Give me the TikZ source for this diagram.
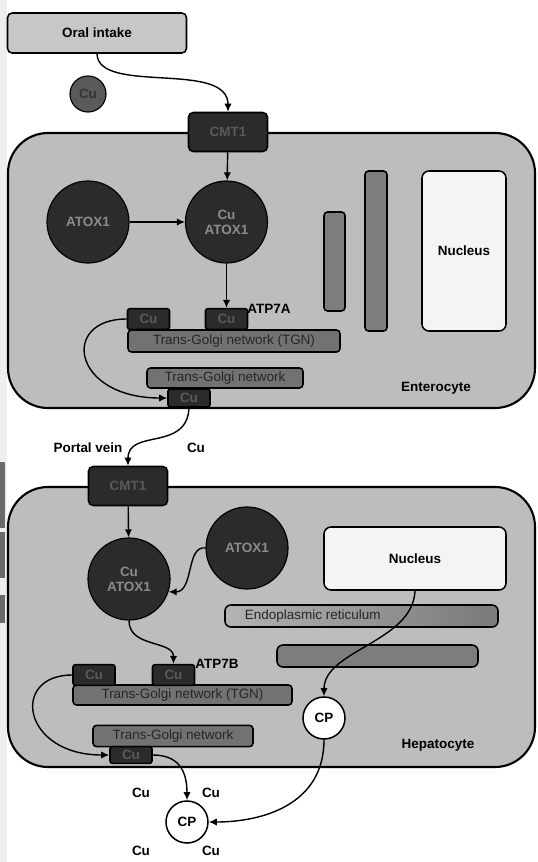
\documentclass[tikz,border=0pt]{standalone}
\usepackage{fontspec}
\setmainfont{Liberation Sans}
\usepackage{tikz}
\usetikzlibrary{calc,arrows.meta}

\definecolor{cellgray}{HTML}{BDBDBD}
\definecolor{oralgray}{HTML}{C7C7C7}
\definecolor{darkfill}{HTML}{2B2B2B}
\definecolor{protext}{HTML}{8C8C8C}
\definecolor{iongray}{HTML}{5A5A5A}
\definecolor{bargray}{HTML}{7D7D7D}
\definecolor{tgngray}{HTML}{727272}
\definecolor{nucfill}{HTML}{F4F4F4}
\definecolor{stripgray}{HTML}{EEEEEE}
\definecolor{edgegray}{HTML}{6A6A6A}

\begin{document}
\begin{tikzpicture}[
        x=0.03cm, y=-0.03cm,
        every node/.style={font=\bfseries\fontsize{11.5}{13}\selectfont},
        cell/.style={
            draw,
            line width=1.8pt,
            rounded corners=1.2cm,
            fill=cellgray
        },
        box/.style={
            draw,
            rounded corners=4pt,
            line width=1.3pt,
            inner sep=0pt
        },
        cmt/.style={
            box,
            fill=darkfill,
            text=iongray,
            minimum width=2.37cm,
            minimum height=1.17cm
        },
        prot/.style={
            circle,
            draw,
            line width=1pt,
            fill=darkfill,
            text=protext,
            minimum size=2.46cm,
            inner sep=0pt,
            align=center
        },
        cubox/.style={
            box,
            rounded corners=2pt,
            fill=darkfill,
            text=iongray,
            minimum width=1.26cm,
            minimum height=0.62cm
        },
        tgn/.style={
            box,
            rounded corners=3pt,
            fill=tgngray,
            text=black!85,
            font=\fontsize{11.5}{13}\selectfont
        },
        organelle/.style={
            box,
            rounded corners=6pt,
            fill=nucfill
        },
        vbar/.style={
            box,
            rounded corners=3pt,
            fill=bargray
        },
        cp/.style={
            circle,
            draw,
            line width=1.3pt,
            fill=white,
            minimum size=1.26cm,
            inner sep=0pt
        },
        lab/.style={inner sep=1pt},
        arrow/.style={-{Latex[length=2.4mm,width=2.2mm]}, line width=1.2pt}
    ]

    % Canvas and scan edge
    \useasboundingbox (0,0) rectangle (538,862);
    \fill[white] (0,0) rectangle (538,862);
    \fill[stripgray] (0,0) rectangle (7,862);
    \fill[edgegray] (0,462) rectangle (5,528);
    \fill[edgegray] (0,532) rectangle (5,578);
    \fill[edgegray] (0,595) rectangle (5,623);

    % Cells
    \draw[cell] (8,133) rectangle (535,408);
    \draw[cell] (8,487) rectangle (535,767);

    % Intake
    \node[box, fill=oralgray, minimum width=5.37cm, minimum height=1.2cm] (oral) at (97,33) {Oral intake};
    \node[circle, draw, line width=1pt, fill=iongray, text=black!80, minimum size=1.08cm, inner sep=0pt] (ion) at (88,94) {Cu};

    % Enterocyte
    \node[cmt] (cmtA) at (228,132) {CMT1};
    \node[prot] (atoxA) at (88,222) {ATOX1};
    \node[prot] (cuatoxA) at (226.5,222) {Cu\\ATOX1};
    \node[vbar, minimum width=0.63cm, minimum height=2.97cm] (barA1) at (334.5,261.5) {};
    \node[vbar, minimum width=0.66cm, minimum height=4.8cm] (barA2) at (376,251) {};
    \node[organelle, minimum width=2.52cm, minimum height=4.8cm] (nucA) at (464,251) {Nucleus};
    \node[tgn, minimum width=6.36cm, minimum height=0.66cm] (tgnA1) at (234,341) {Trans-Golgi network (TGN)};
    \node[cubox] (cuA1) at (148.5,319) {Cu};
    \node[cubox] (cuA2) at (226.5,319) {Cu};
    \node[lab, anchor=west] (atp7a) at (246,309) {ATP7A};
    \node[tgn, minimum width=4.68cm, minimum height=0.6cm] (tgnA2) at (225,378) {Trans-Golgi network};
    \node[cubox, minimum height=0.54cm] (cuA3) at (189,398) {Cu};
    \node[lab] (entero) at (436,388) {Enterocyte};

    % Portal vein
    \node[lab] (portal) at (88,448) {Portal vein};
    \node[lab] (cuPortal) at (196,448) {Cu};

    % Hepatocyte
    \node[cmt] (cmtB) at (128,486) {CMT1};
    \node[prot] (cuatoxB) at (129,579) {Cu\\ATOX1};
    \node[prot] (atoxB) at (247,548) {ATOX1};
    \node[organelle, minimum width=5.46cm, minimum height=1.89cm] (nucB) at (415,558.5) {Nucleus};
    \node[box, rounded corners=5pt, left color=gray!60, right color=gray!105, shading angle=90,
          minimum width=8.19cm, minimum height=0.66cm,
          label={[tgn, draw=none, fill=none, anchor=west, xshift=0.6cm]west:Endoplasmic reticulum}] (erB) at (361.5,616) {};
    \node[vbar, rounded corners=5pt, minimum width=6.03cm, minimum height=0.66cm] (barB) at (377.5,656) {};
    \node[tgn, minimum width=6.57cm, minimum height=0.6cm] (tgnB1) at (182.5,695) {Trans-Golgi network (TGN)};
    \node[cubox] (cuB1) at (94,675) {Cu};
    \node[cubox] (cuB2) at (173.5,675) {Cu};
    \node[lab, anchor=west] (atp7b) at (194,664) {ATP7B};
    \node[tgn, minimum width=4.8cm, minimum height=0.64cm] (tgnB2) at (173,736) {Trans-Golgi network};
    \node[cubox, minimum height=0.5cm] (cuB3) at (131,755) {Cu};
    \node[cp] (cpA) at (324,718) {CP};
    \node[lab] (hepato) at (438,745) {Hepatocyte};

    % Serum
    \node[cp] (cpB) at (187,822) {CP};
    \node[lab] (cuS1) at (141,793) {Cu};
    \node[lab] (cuS2) at (211,793) {Cu};
    \node[lab] (cuS3) at (141,851) {Cu};
    \node[lab] (cuS4) at (211,851) {Cu};

    % Arrows
    \draw[arrow] (oral.south) .. controls (98,95) and (228,60) .. (cmtA.north);
    \draw[arrow] (cmtA) -- (cuatoxA);
    \draw[arrow] (atoxA) -- (cuatoxA);
    \draw[arrow] (cuatoxA) -- (cuA2);
    \draw[arrow] (cuA1.west) .. controls (60,319) and (72,398) .. (cuA3.west);
    \draw[arrow] (cuA3.south) .. controls (187,452) and (128,428) .. (cmtB.north);
    \draw[arrow] (cmtB) -- (cuatoxB);
    \draw[arrow] (atoxB.west) .. controls (186,545) and (194,592) .. (cuatoxB.-18);
    \draw[arrow] (cuatoxB.south) .. controls (129,648) and (173.5,640) .. (cuB2.north);
    \draw[arrow] (cuB1.west) .. controls (10,675) and (22,755) .. (cuB3.west);
    \draw[arrow] (cuB3.east) .. controls (178,755) and (187,770) .. (cpB.north);
    \draw[arrow] (nucB.south) .. controls (413,642) and (324,650) .. (cpA.north);
    \draw[arrow] (cpA.south) .. controls (324,805) and (262,822) .. (cpB.east);

\end{tikzpicture}
\end{document}
